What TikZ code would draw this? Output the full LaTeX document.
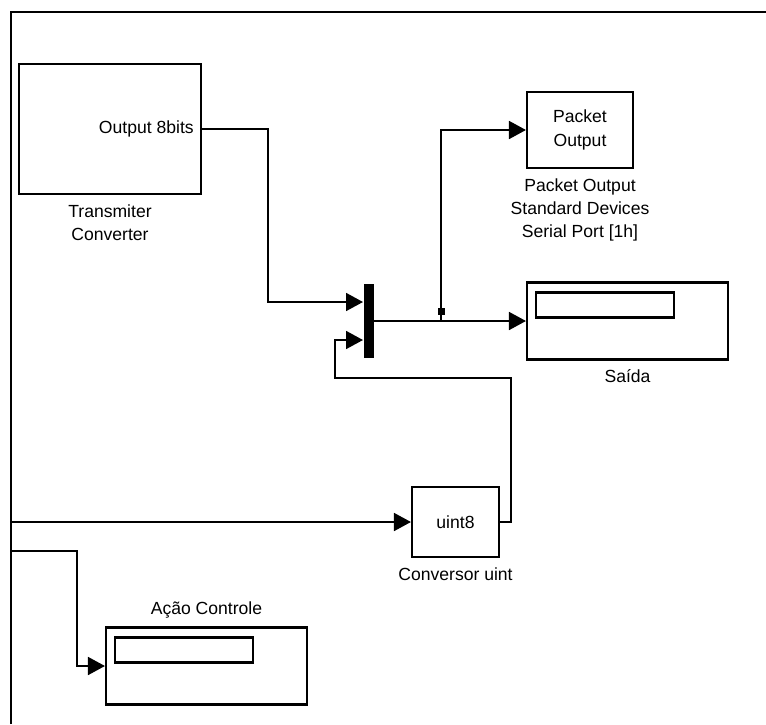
\documentclass[tikz,border=0pt]{standalone}
\usepackage{fontspec}
\setmainfont{Liberation Sans}
\usepackage{tikz}
\usetikzlibrary{arrows.meta, positioning}

\begin{document}
\begin{tikzpicture}[
    x=0.2mm, y=-0.2mm,
    font=\fontsize{10}{13.3}\selectfont,
    block/.style={rectangle, draw, line width=1.2pt, inner sep=0pt, align=center},
    disp/.style={rectangle, draw, line width=1.2pt, inner sep=0pt, minimum width=27.6mm, minimum height=5mm},
    muxbar/.style={rectangle, fill=black, inner sep=0pt, minimum width=2mm, minimum height=14.8mm},
    tag/.style={inner sep=0pt, align=center},
    sig/.style={line width=1pt, -{Triangle[length=3.4mm, width=3.6mm]}},
    frame/.style={line width=1.2pt}
]
\useasboundingbox (0,0) rectangle (766,724);

% Frame
\draw [frame] (11,724) |- (766,12);

% Nodes
\node [block, minimum width=36.4mm, minimum height=26mm] (tx) at (110,129) {};
\node [tag, anchor=east] (txport) at ([xshift=-1.6mm]tx.east) {Output 8bits};
\node [tag, below=1.8mm of tx] (txlabel) {Transmiter\\Converter};

\node [muxbar] (mux) at (368.5,321) {};
\coordinate (in1) at (363,302);
\coordinate (in2) at (363,340);

\node [block, minimum width=21.2mm, minimum height=15.2mm] (pkt) at (580,130) {Packet\\Output};
\node [tag, below=1.8mm of pkt] (pktlabel) {Packet Output\\Standard Devices\\Serial Port [1h]};

\node [block, minimum width=40.2mm, minimum height=15.4mm] (saida) at (627.5,321) {};
\node [disp, anchor=north west] (saidadisp) at ([xshift=1.8mm, yshift=-2mm]saida.north west) {};
\node [tag, below=1.8mm of saida] (saidalabel) {Saída};

\node [block, minimum width=17.4mm, minimum height=14mm] (conv) at (455.5,522) {uint8};
\node [tag, below=1.8mm of conv] (convlabel) {Conversor uint};

\node [block, minimum width=40.2mm, minimum height=15.4mm] (acao) at (206.5,666) {};
\node [disp, anchor=north west] (acaodisp) at ([xshift=1.8mm, yshift=-2mm]acao.north west) {};
\node [tag, above=1.6mm of acao] (acaolabel) {Ação Controle};

% Branch point
\coordinate (br) at (441,321);
\node [rectangle, fill=black, inner sep=0pt, minimum size=1.4mm] (brdot) at (441,311) {};

% Free ends on the frame
\coordinate (src1) at (11,522);
\coordinate (src2) at (11,551);
\coordinate (fb) at (335,378);

% Signal paths
\draw [sig] (tx.east) -| (268,302) -- (in1);
\draw [sig] (mux.east) -- (saida.west);
\draw [sig] (br) |- (pkt.west);
\draw [sig] (conv.east) -- ++(11,0) |- (fb) |- (in2);
\draw [sig] (src1) -- (conv.west);
\draw [sig] (src2) -| (77,600) |- (acao.west);

\end{tikzpicture}
\end{document}
